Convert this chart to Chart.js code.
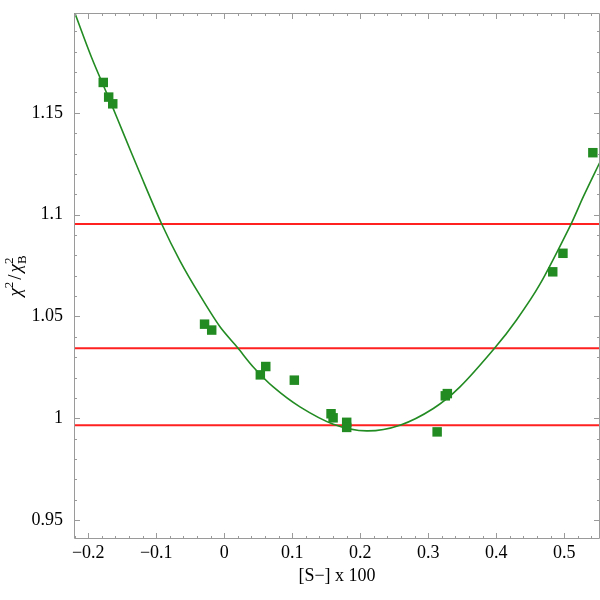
<!DOCTYPE html>
<html>
<head>
<meta charset="utf-8">
<script src="https://cdn.jsdelivr.net/npm/chart.js@4/dist/chart.umd.min.js"></script>
<style>
  html, body { margin: 0; padding: 0; background: #fff; }
  #wrap { width: 600px; height: 600px; }
</style>
</head>
<body>
<div id="wrap"><canvas id="fitChart" width="600" height="600"></canvas></div>
<script>
// axis ranges
const xMin = -0.221, xMax = 0.5525;
const yMin = 0.9407, yMax = 1.199;

// tick labels
const xTicks = [-0.2, -0.1, 0, 0.1, 0.2, 0.3, 0.4, 0.5];
const yTicks = [0.95, 1, 1.05, 1.1, 1.15];

// measured points (squares)
const pointX = [-0.178, -0.170, -0.164, -0.029, -0.0185, 0.053, 0.061, 0.103, 0.157, 0.160, 0.180, 0.180, 0.313, 0.325, 0.328, 0.483, 0.498, 0.542];
const pointY = [1.1649, 1.1577, 1.1544, 1.0462, 1.0433, 1.0213, 1.0254, 1.0187, 1.0022, 1.0002, 0.9980, 0.9955, 0.9933, 1.0110, 1.0121, 1.0719, 1.0810, 1.1304];

// fitted curve
const curveX = [-0.222, -0.195, -0.1656, -0.1485, -0.124, -0.092, -0.065, -0.0357, -0.0063, 0.0197, 0.0426, 0.072, 0.1113, 0.1603, 0.2094, 0.2584, 0.3074, 0.3466, 0.398, 0.430, 0.464, 0.5094, 0.528, 0.553];
const curveY = [1.201, 1.177, 1.1539, 1.140, 1.1203, 1.0954, 1.0772, 1.0603, 1.0449, 1.0346, 1.0252, 1.0154, 1.0056, 0.9971, 0.9938, 0.9966, 1.0048, 1.0154, 1.0346, 1.0484, 1.0657, 1.0950, 1.1088, 1.1262];

// horizontal reference levels
const hLines = [0.9966, 1.0344, 1.0954];

const green = '#228b22';
const red = 'rgb(255, 32, 32)';
const serif = '"Liberation Serif", "DejaVu Serif", serif';

function fmt(v) {
    return String(+v.toFixed(2)).replace('-', '\u2212');
}

// Mathematica-style frame with inward ticks on all four sides
const frameTicks = {
    id: 'frameTicks',
    afterDraw(chart) {
        const { ctx, chartArea: a, scales: { x, y } } = chart;
        ctx.save();
        ctx.strokeStyle = '#9a9a9a';
        ctx.lineWidth = 1;
        ctx.beginPath();
        ctx.rect(a.left + 0.5, a.top + 0.5, a.right - a.left - 1, a.bottom - a.top - 1);
        ctx.stroke();

        ctx.beginPath();
        for (let i = -11; i <= 27; i++) {
            const v = i * 0.02;
            if (v < xMin || v > xMax) continue;
            const len = i % 5 === 0 ? 6 : 3;
            const px = Math.round(x.getPixelForValue(v)) + 0.5;
            ctx.moveTo(px, a.bottom);
            ctx.lineTo(px, a.bottom - len);
            ctx.moveTo(px, a.top);
            ctx.lineTo(px, a.top + len);
        }
        for (let i = 94; i <= 119; i++) {
            const v = i * 0.01;
            if (v < yMin || v > yMax) continue;
            const len = i % 5 === 0 ? 6 : 3;
            const py = Math.round(y.getPixelForValue(v)) + 0.5;
            ctx.moveTo(a.left, py);
            ctx.lineTo(a.left + len, py);
            ctx.moveTo(a.right, py);
            ctx.lineTo(a.right - len, py);
        }
        ctx.stroke();
        ctx.restore();
    }
};

// y title: chi^2 / chi^2_B, rotated
const yTitle = {
    id: 'yTitle',
    afterDraw(chart) {
        const { ctx, chartArea: a } = chart;
        const big = 'italic 19px ' + serif;
        const bigUp = '19px ' + serif;
        const small = '13px ' + serif;
        ctx.save();
        ctx.translate(21, (a.top + a.bottom) / 2);
        ctx.rotate(-Math.PI / 2);
        ctx.fillStyle = '#000';
        ctx.textBaseline = 'alphabetic';

        ctx.font = big; const wChi = ctx.measureText('\u03c7').width;
        ctx.font = small; const w2 = ctx.measureText('2').width; const wB = ctx.measureText('B').width;
        ctx.font = bigUp; const wSl = ctx.measureText('/').width;
        const total = wChi + w2 + 2 + wSl + 2 + wChi + Math.max(w2, wB);
        let cx = -total / 2;

        ctx.font = big; ctx.fillText('\u03c7', cx, 0); cx += wChi;
        ctx.font = small; ctx.fillText('2', cx, -8); cx += w2 + 2;
        ctx.font = bigUp; ctx.fillText('/', cx, 0); cx += wSl + 2;
        ctx.font = big; ctx.fillText('\u03c7', cx, 0); cx += wChi;
        ctx.font = small; ctx.fillText('2', cx, -8); ctx.fillText('B', cx, 5);
        ctx.restore();
    }
};

const lineSets = hLines.map(v => ({
    type: 'line',
    data: [{ x: xMin, y: v }, { x: xMax, y: v }],
    borderColor: red,
    borderWidth: 2,
    pointRadius: 0,
    order: 3
}));

new Chart(document.getElementById('fitChart'), {
    type: 'scatter',
    data: {
        datasets: [
            {
                type: 'scatter',
                data: pointX.map((v, i) => ({ x: v, y: pointY[i] })),
                backgroundColor: green,
                borderWidth: 0,
                pointStyle: 'rect',
                pointRadius: 6.7,
                order: 1
            },
            {
                type: 'line',
                data: curveX.map((v, i) => ({ x: v, y: curveY[i] })),
                borderColor: green,
                borderWidth: 1.6,
                pointRadius: 0,
                tension: 0.3,
                order: 2
            },
            ...lineSets
        ]
    },
    options: {
        responsive: false,
        animation: false,
        layout: { autoPadding: false, padding: { top: 13, right: 0, left: 0, bottom: 0 } },
        plugins: {
            legend: { display: false },
            tooltip: { enabled: false }
        },
        scales: {
            x: {
                type: 'linear',
                min: xMin,
                max: xMax,
                afterBuildTicks: s => { s.ticks = xTicks.map(v => ({ value: v })); },
                afterFit: s => { s.height = 61; s.paddingLeft = 0; s.paddingRight = 0; },
                grid: { display: false, drawTicks: false },
                border: { display: false },
                ticks: {
                    padding: 3,
                    color: '#000',
                    font: { family: serif, size: 18 },
                    maxRotation: 0,
                    callback: v => fmt(v)
                },
                title: {
                    display: true,
                    text: '[S\u2212] x 100',
                    color: '#000',
                    font: { family: serif, size: 18 },
                    padding: { top: 0, bottom: 13 }
                }
            },
            y: {
                type: 'linear',
                min: yMin,
                max: yMax,
                afterBuildTicks: s => { s.ticks = yTicks.map(v => ({ value: v })); },
                afterFit: s => { s.width = 74; s.paddingTop = 0; s.paddingBottom = 0; },
                grid: { display: false, drawTicks: false },
                border: { display: false },
                ticks: {
                    padding: 11,
                    color: '#000',
                    font: { family: serif, size: 18 },
                    callback: v => fmt(v)
                }
            }
        }
    },
    plugins: [frameTicks, yTitle]
});
</script>
</body>
</html>
